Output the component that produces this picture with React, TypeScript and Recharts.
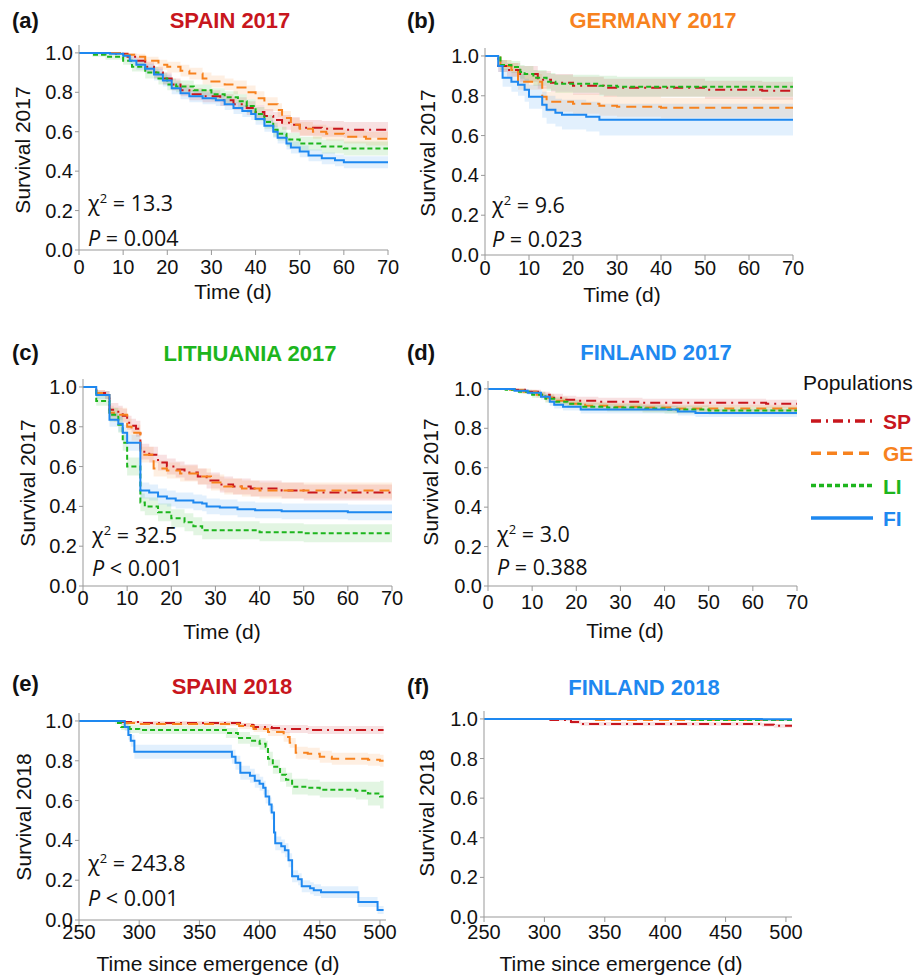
import React from 'react';
import { ComposedChart, Line, Area, XAxis, YAxis } from 'recharts';

// [time, survival, lower CI, upper CI]
type Row = [number, number, number, number];

const POPS = ['SP', 'GE', 'LI', 'FI'];
const COLORS: Record<string, string> = { SP: '#C8161D', GE: '#F7821E', LI: '#1DB51D', FI: '#1E88F0' };
const DASHES: Record<string, string | undefined> = { SP: '10 5 2 5', GE: '10 6', LI: '5 3', FI: undefined };

const TICKS_2017 = [0, 10, 20, 30, 40, 50, 60, 70];
const TICKS_2018 = [250, 300, 350, 400, 450, 500];
const Y_TICKS = [0, 0.2, 0.4, 0.6, 0.8, 1.0];

// (a) Spain 2017
const A_SP: Row[] = [[0,1,1,1],[8,0.995,0.99,1],[11,0.98,0.965,0.995],[13,0.96,0.94,0.98],[15,0.93,0.905,0.955],[17,0.9,0.87,0.93],[19,0.87,0.84,0.9],[21,0.84,0.81,0.87],[23,0.81,0.78,0.84],[25,0.79,0.76,0.82],[28,0.78,0.75,0.81],[32,0.76,0.73,0.79],[35,0.74,0.71,0.775],[38,0.72,0.685,0.755],[40,0.7,0.665,0.735],[42,0.68,0.645,0.715],[44,0.66,0.625,0.7],[46,0.645,0.61,0.685],[48,0.635,0.595,0.675],[50,0.62,0.58,0.66],[55,0.615,0.575,0.655],[60,0.61,0.57,0.65],[70,0.61,0.57,0.65]];
const A_GE: Row[] = [[0,1,1,1],[10,0.99,0.98,1],[13,0.98,0.965,0.995],[15,0.96,0.94,0.98],[18,0.94,0.915,0.965],[20,0.93,0.9,0.955],[23,0.91,0.88,0.94],[25,0.895,0.865,0.925],[28,0.87,0.84,0.9],[30,0.855,0.825,0.885],[33,0.84,0.81,0.87],[35,0.825,0.79,0.86],[38,0.8,0.765,0.835],[40,0.77,0.735,0.805],[42,0.74,0.705,0.775],[45,0.71,0.675,0.745],[46,0.67,0.635,0.705],[48,0.635,0.6,0.67],[50,0.615,0.58,0.65],[53,0.6,0.565,0.635],[56,0.59,0.555,0.625],[60,0.575,0.54,0.61],[65,0.565,0.53,0.6],[70,0.565,0.53,0.6]];
const A_LI: Row[] = [[0,1,1,1],[3,0.99,0.98,1],[6,0.98,0.965,0.995],[10,0.96,0.94,0.98],[12,0.93,0.905,0.955],[15,0.9,0.87,0.93],[18,0.87,0.84,0.9],[20,0.84,0.81,0.87],[22,0.83,0.8,0.86],[26,0.81,0.78,0.84],[30,0.79,0.76,0.82],[33,0.775,0.745,0.805],[36,0.755,0.725,0.79],[38,0.73,0.695,0.765],[40,0.69,0.655,0.725],[42,0.65,0.615,0.685],[44,0.61,0.575,0.645],[45,0.59,0.555,0.625],[47,0.56,0.525,0.595],[50,0.54,0.505,0.575],[55,0.525,0.49,0.56],[60,0.515,0.48,0.55],[70,0.51,0.475,0.545]];
const A_FI: Row[] = [[0,1,1,1],[7,0.995,0.99,1],[10,0.985,0.975,0.995],[11.5,0.96,0.94,0.98],[13,0.94,0.915,0.965],[15,0.92,0.895,0.945],[17,0.89,0.86,0.92],[19,0.86,0.83,0.89],[21,0.82,0.79,0.85],[23,0.795,0.765,0.825],[25,0.78,0.75,0.81],[28,0.77,0.74,0.8],[31,0.76,0.73,0.79],[33,0.74,0.71,0.77],[35,0.72,0.69,0.75],[37,0.705,0.675,0.735],[39,0.69,0.66,0.72],[40,0.665,0.635,0.695],[42,0.63,0.6,0.66],[44,0.6,0.57,0.63],[45,0.57,0.54,0.6],[47,0.54,0.51,0.57],[48,0.52,0.49,0.55],[50,0.5,0.47,0.53],[52,0.48,0.45,0.51],[55,0.465,0.435,0.495],[58,0.455,0.425,0.485],[60,0.445,0.415,0.475],[70,0.44,0.405,0.475]];

// (b) Germany 2017
const B_SP: Row[] = [[0,1,1,1],[3,0.95,0.92,0.98],[5,0.93,0.895,0.965],[8,0.91,0.87,0.95],[12,0.88,0.835,0.925],[15,0.865,0.82,0.91],[20,0.85,0.805,0.895],[27,0.84,0.795,0.885],[50,0.83,0.785,0.875],[63,0.825,0.78,0.87],[70,0.825,0.78,0.87]];
const B_GE: Row[] = [[0,1,1,1],[3.5,0.95,0.92,0.98],[6,0.93,0.895,0.965],[7.5,0.87,0.83,0.91],[13,0.795,0.745,0.845],[14,0.77,0.72,0.82],[20,0.76,0.71,0.81],[26,0.75,0.7,0.8],[30,0.745,0.695,0.795],[40,0.74,0.69,0.79],[70,0.74,0.69,0.79]];
const B_LI: Row[] = [[0,1,1,1],[3.5,0.955,0.93,0.98],[6,0.945,0.915,0.975],[8,0.92,0.885,0.955],[9,0.91,0.87,0.95],[11,0.89,0.85,0.93],[14,0.87,0.825,0.915],[16,0.86,0.815,0.905],[26,0.85,0.8,0.9],[30,0.845,0.795,0.895],[70,0.845,0.795,0.895]];
const B_FI: Row[] = [[0,1,1,1],[3,0.95,0.92,0.98],[4,0.89,0.845,0.935],[6,0.87,0.82,0.92],[7.5,0.855,0.8,0.91],[9,0.83,0.77,0.885],[10,0.795,0.735,0.855],[13,0.755,0.69,0.82],[14,0.73,0.66,0.8],[16,0.715,0.645,0.785],[17.5,0.705,0.63,0.78],[23,0.695,0.62,0.77],[26,0.68,0.6,0.76],[70,0.68,0.6,0.76]];

// (c) Lithuania 2017
const C_SP: Row[] = [[0,1,1,1],[3,0.97,0.955,0.985],[5,0.96,0.94,0.98],[6,0.885,0.85,0.92],[8,0.87,0.835,0.905],[9,0.855,0.82,0.89],[10,0.82,0.785,0.855],[11,0.805,0.77,0.84],[12,0.79,0.75,0.83],[13,0.675,0.635,0.715],[15,0.66,0.62,0.7],[17,0.62,0.58,0.66],[19,0.6,0.56,0.64],[21,0.585,0.545,0.625],[23,0.57,0.53,0.61],[26,0.55,0.51,0.59],[28,0.53,0.49,0.57],[31,0.51,0.47,0.55],[34,0.5,0.46,0.54],[38,0.49,0.45,0.53],[45,0.48,0.44,0.52],[50,0.47,0.43,0.51],[70,0.465,0.425,0.505]];
const C_GE: Row[] = [[0,1,1,1],[3,0.97,0.955,0.985],[5,0.96,0.94,0.98],[6,0.87,0.835,0.905],[7,0.86,0.825,0.895],[10,0.8,0.76,0.84],[11,0.77,0.73,0.81],[13,0.66,0.62,0.7],[16,0.59,0.55,0.63],[19,0.58,0.54,0.62],[22,0.565,0.525,0.605],[26,0.55,0.51,0.59],[29,0.52,0.48,0.56],[32,0.5,0.46,0.54],[36,0.49,0.45,0.53],[40,0.48,0.44,0.52],[70,0.48,0.44,0.52]];
const C_LI: Row[] = [[0,1,1,1],[3,0.93,0.905,0.955],[6,0.86,0.825,0.895],[8,0.81,0.77,0.85],[9,0.72,0.68,0.76],[10,0.6,0.555,0.645],[13,0.42,0.375,0.465],[14,0.4,0.355,0.445],[17,0.37,0.325,0.415],[20,0.34,0.295,0.385],[23,0.32,0.275,0.365],[25,0.3,0.255,0.345],[27,0.28,0.235,0.325],[40,0.27,0.225,0.315],[50,0.265,0.22,0.31],[70,0.265,0.22,0.31]];
const C_FI: Row[] = [[0,1,1,1],[3,0.96,0.94,0.98],[6,0.835,0.8,0.87],[8,0.815,0.775,0.855],[9,0.77,0.73,0.81],[10,0.72,0.68,0.76],[13,0.48,0.44,0.52],[15,0.47,0.43,0.51],[17,0.45,0.41,0.49],[19,0.44,0.4,0.48],[21,0.43,0.39,0.47],[25,0.42,0.38,0.46],[27,0.415,0.375,0.455],[28,0.4,0.36,0.44],[31,0.395,0.355,0.435],[35,0.385,0.345,0.425],[39,0.38,0.34,0.42],[45,0.375,0.335,0.415],[60,0.37,0.33,0.41],[70,0.37,0.33,0.41]];

// (d) Finland 2017
const D_SP: Row[] = [[0,1,1,1],[6,0.995,0.99,1],[9,0.985,0.975,0.995],[12,0.97,0.955,0.985],[14,0.955,0.935,0.975],[17,0.945,0.925,0.965],[20,0.94,0.92,0.96],[25,0.935,0.915,0.955],[35,0.93,0.91,0.95],[63,0.925,0.905,0.945],[70,0.925,0.905,0.945]];
const D_GE: Row[] = [[0,1,1,1],[5,0.995,0.99,1],[8,0.985,0.975,0.995],[11,0.97,0.955,0.985],[13,0.955,0.935,0.975],[15,0.94,0.92,0.96],[18,0.925,0.905,0.945],[22,0.915,0.895,0.935],[27,0.91,0.89,0.93],[35,0.905,0.885,0.925],[42,0.9,0.88,0.92],[70,0.9,0.88,0.92]];
const D_LI: Row[] = [[0,1,1,1],[4,0.995,0.99,1],[7,0.985,0.975,0.995],[10,0.97,0.955,0.985],[13,0.95,0.93,0.97],[15,0.935,0.915,0.955],[18,0.925,0.905,0.945],[21,0.91,0.89,0.93],[27,0.905,0.885,0.925],[35,0.9,0.88,0.92],[40,0.895,0.875,0.915],[50,0.89,0.87,0.91],[70,0.89,0.87,0.91]];
const D_FI: Row[] = [[0,1,1,1],[6,0.99,0.985,0.995],[9,0.98,0.97,0.99],[12,0.96,0.945,0.975],[14,0.935,0.915,0.955],[15,0.92,0.9,0.94],[17,0.91,0.89,0.93],[21,0.895,0.875,0.915],[30,0.895,0.875,0.915],[43,0.885,0.865,0.905],[47,0.878,0.858,0.898],[70,0.878,0.858,0.898]];

// (e) Spain 2018
const E_SP: Row[] = [[250,1,1,1],[285,0.995,0.99,1],[300,0.99,0.98,1],[385,0.98,0.97,0.99],[395,0.97,0.955,0.985],[410,0.965,0.95,0.98],[420,0.96,0.94,0.98],[440,0.955,0.935,0.975],[503,0.955,0.935,0.975]];
const E_GE: Row[] = [[250,1,1,1],[285,0.99,0.98,1],[300,0.985,0.975,0.995],[383,0.975,0.96,0.99],[395,0.96,0.945,0.975],[407,0.945,0.925,0.965],[420,0.92,0.895,0.945],[425,0.89,0.865,0.915],[430,0.84,0.81,0.87],[440,0.835,0.805,0.865],[450,0.82,0.79,0.85],[460,0.81,0.78,0.84],[490,0.805,0.775,0.835],[500,0.8,0.77,0.83],[503,0.8,0.77,0.83]];
const E_LI: Row[] = [[250,1,1,1],[280,0.99,0.985,0.995],[285,0.97,0.955,0.985],[292,0.96,0.94,0.98],[300,0.955,0.935,0.975],[372,0.94,0.915,0.965],[382,0.915,0.885,0.945],[392,0.9,0.87,0.93],[400,0.885,0.855,0.915],[405,0.87,0.84,0.9],[407,0.81,0.775,0.845],[411,0.77,0.735,0.805],[417,0.73,0.695,0.765],[422,0.705,0.67,0.74],[427,0.67,0.63,0.71],[440,0.665,0.625,0.705],[450,0.655,0.615,0.695],[480,0.65,0.605,0.695],[490,0.635,0.575,0.695],[500,0.62,0.56,0.7],[503,0.62,0.56,0.7]];
const E_FI: Row[] = [[250,1,1,1],[288,0.97,0.95,0.99],[291,0.93,0.905,0.955],[293,0.9,0.87,0.93],[296,0.845,0.81,0.88],[377,0.82,0.785,0.855],[380,0.79,0.755,0.825],[384,0.74,0.705,0.775],[392,0.725,0.69,0.76],[396,0.7,0.665,0.735],[400,0.685,0.65,0.72],[403,0.665,0.63,0.7],[405,0.62,0.585,0.655],[408,0.58,0.545,0.615],[410,0.54,0.505,0.575],[412,0.44,0.405,0.475],[413,0.385,0.35,0.42],[418,0.37,0.335,0.405],[421,0.35,0.315,0.385],[424,0.3,0.265,0.335],[427,0.22,0.19,0.25],[432,0.205,0.175,0.235],[435,0.17,0.14,0.2],[442,0.16,0.13,0.19],[445,0.15,0.12,0.18],[451,0.14,0.11,0.17],[482,0.09,0.065,0.115],[498,0.05,0.03,0.07],[503,0.05,0.03,0.07]];

// (f) Finland 2018
const F_SP: Row[] = [[250,1,1,1],[305,0.995,0.99,1],[322,0.985,0.975,0.995],[330,0.975,0.965,0.985],[480,0.97,0.96,0.98],[490,0.965,0.955,0.975],[505,0.965,0.955,0.975]];
const F_GE: Row[] = [[250,1,1,1],[340,0.995,0.99,1],[505,0.995,0.99,1]];
const F_LI: Row[] = [[250,1,1,1],[420,0.995,0.99,1],[505,0.995,0.99,1]];
const F_FI: Row[] = [[250,1,1,1],[480,0.998,0.995,1],[505,0.998,0.995,1]];

const FONT = '"Liberation Sans", Arial, sans-serif';
const STAT_FONT = '"Open Sans", "Noto Sans", sans-serif';

const toPoints = (rows: Row[]) => rows.map(([t, s, lo, hi]) => ({ t, s, band: [lo, hi] }));

interface Box { x0: number; x1: number; y0: number; y1: number }

const Panel = ({ rows, box, xDomain, xTicks, xGap }: { rows: Row[][]; box: Box; xDomain: [number, number]; xTicks: number[]; xGap: number }) => {
  const padL = 60, padT = 10, padR = 20, padB = 40;
  const w = box.x1 - box.x0 + padL + padR;
  const h = box.y1 - box.y0 + padT + padB;
  const axisStyle = { fill: '#111', fontSize: 20, fontFamily: FONT };
  return (
    <div style={{ position: 'absolute', left: box.x0 - padL, top: box.y0 - padT }}>
      <ComposedChart width={w} height={h} margin={{ top: padT, right: padR, bottom: 0, left: 0 }}>
        <XAxis type="number" dataKey="t" domain={xDomain} ticks={xTicks} height={padB} allowDataOverflow
          stroke="#999" tick={axisStyle} tickSize={5} tickMargin={xGap} interval={0} />
        <YAxis type="number" domain={[0, 1.04]} ticks={Y_TICKS} width={padL} allowDataOverflow
          stroke="#999" tick={axisStyle} tickSize={4} tickMargin={2} interval={0}
          tickFormatter={(v: number) => v.toFixed(1)} />
        {POPS.map((p, i) => (
          <Area key={'band' + p} data={toPoints(rows[i])} dataKey="band" type="stepAfter"
            fill={COLORS[p]} fillOpacity={0.13} stroke="none" isAnimationActive={false} />
        ))}
        {POPS.map((p, i) => (
          <Line key={'line' + p} data={toPoints(rows[i])} dataKey="s" type="stepAfter"
            stroke={COLORS[p]} strokeWidth={2} strokeDasharray={DASHES[p]} dot={false}
            activeDot={false} isAnimationActive={false} />
        ))}
      </ComposedChart>
    </div>
  );
};

const Txt = ({ x, y, children, center, style }: { x: number; y: number; children: React.ReactNode; center?: boolean; style?: React.CSSProperties }) => (
  <div style={{
    position: 'absolute', left: x, top: y, whiteSpace: 'nowrap', lineHeight: 1,
    transform: center ? 'translate(-50%, -50%)' : 'translateY(-50%)', fontFamily: FONT, fontSize: 21, color: '#111', ...style
  }}>{children}</div>
);

const YTitle = ({ x, y, text }: { x: number; y: number; text: string }) => (
  <div style={{
    position: 'absolute', left: x, top: y, whiteSpace: 'nowrap', lineHeight: 1,
    transform: 'translate(-50%, -50%) rotate(-90deg)', fontFamily: FONT, fontSize: 21, color: '#111'
  }}>{text}</div>
);

const Stats = ({ x, y1, y2, chi, p }: { x: number; y1: number; y2: number; chi: string; p: string }) => (
  <>
    <Txt x={x} y={y1} style={{ fontFamily: STAT_FONT, fontSize: 21.5 }}>χ<sup style={{ fontSize: 13 }}>2</sup> = {chi}</Txt>
    <Txt x={x} y={y2} style={{ fontFamily: STAT_FONT, fontSize: 21.5 }}><i>P</i> {p}</Txt>
  </>
);

const titleStyle = (c: string): React.CSSProperties => ({ fontWeight: 'bold', color: c, fontSize: 22 });
const tagStyle: React.CSSProperties = { fontWeight: 'bold', fontSize: 22 };

export default function App() {
  return (
    <div style={{ position: 'absolute', left: 0, top: 0, width: 916, height: 977, background: '#fff', overflow: 'hidden' }}>
      {/* panel tags and titles */}
      <Txt x={12} y={21} style={tagStyle}>(a)</Txt>
      <Txt x={230} y={21} center style={titleStyle(COLORS.SP)}>SPAIN 2017</Txt>
      <Txt x={407} y={21} style={tagStyle}>(b)</Txt>
      <Txt x={653} y={21} center style={titleStyle(COLORS.GE)}>GERMANY 2017</Txt>
      <Txt x={12} y={353} style={tagStyle}>(c)</Txt>
      <Txt x={250} y={354} center style={titleStyle(COLORS.LI)}>LITHUANIA 2017</Txt>
      <Txt x={407} y={353} style={tagStyle}>(d)</Txt>
      <Txt x={656} y={353} center style={titleStyle(COLORS.FI)}>FINLAND 2017</Txt>
      <Txt x={12} y={684} style={tagStyle}>(e)</Txt>
      <Txt x={232} y={687} center style={titleStyle(COLORS.SP)}>SPAIN 2018</Txt>
      <Txt x={407} y={687} style={tagStyle}>(f)</Txt>
      <Txt x={644} y={688} center style={titleStyle(COLORS.FI)}>FINLAND 2018</Txt>

      <Panel rows={[A_SP, A_GE, A_LI, A_FI]} box={{ x0: 79, x1: 388, y0: 45, y1: 250 }} xDomain={[0, 70]} xTicks={TICKS_2017} xGap={5} />
      <Panel rows={[B_SP, B_GE, B_LI, B_FI]} box={{ x0: 485, x1: 793, y0: 48, y1: 255 }} xDomain={[0, 70]} xTicks={TICKS_2017} xGap={1} />
      <Panel rows={[C_SP, C_GE, C_LI, C_FI]} box={{ x0: 83, x1: 392, y0: 379, y1: 586 }} xDomain={[0, 70]} xTicks={TICKS_2017} xGap={0} />
      <Panel rows={[D_SP, D_GE, D_LI, D_FI]} box={{ x0: 488, x1: 797, y0: 381, y1: 586 }} xDomain={[0, 70]} xTicks={TICKS_2017} xGap={4} />
      <Panel rows={[E_SP, E_GE, E_LI, E_FI]} box={{ x0: 79, x1: 386, y0: 713, y1: 920 }} xDomain={[250, 505]} xTicks={TICKS_2018} xGap={0} />
      <Panel rows={[F_SP, F_GE, F_LI, F_FI]} box={{ x0: 484, x1: 792, y0: 711, y1: 917 }} xDomain={[250, 505]} xTicks={TICKS_2018} xGap={3} />

      {/* axis titles */}
      <YTitle x={22} y={150} text="Survival 2017" />
      <YTitle x={427} y={153} text="Survival 2017" />
      <YTitle x={27} y={483} text="Survival 2017" />
      <YTitle x={430} y={482} text="Survival 2017" />
      <YTitle x={23} y={817} text="Survival 2018" />
      <YTitle x={426} y={813} text="Survival 2018" />
      <Txt x={233} y={291} center>Time (d)</Txt>
      <Txt x={622} y={294} center>Time (d)</Txt>
      <Txt x={222} y={631} center>Time (d)</Txt>
      <Txt x={625} y={630} center>Time (d)</Txt>
      <Txt x={218} y={963} center>Time since emergence (d)</Txt>
      <Txt x={621} y={963} center>Time since emergence (d)</Txt>

      {/* test statistics */}
      <Stats x={88} y1={203} y2={238} chi="13.3" p="= 0.004" />
      <Stats x={492} y1={205} y2={239} chi="9.6" p="= 0.023" />
      <Stats x={92} y1={535} y2={568} chi="32.5" p="< 0.001" />
      <Stats x={497} y1={534} y2={567} chi="3.0" p="= 0.388" />
      <Stats x={88} y1={863} y2={898} chi="243.8" p="< 0.001" />

      {/* legend */}
      <Txt x={803} y={382}>Populations</Txt>
      <svg style={{ position: 'absolute', left: 805, top: 405 }} width={75} height={125}>
        {POPS.map((p, i) => (
          <line key={p} x1={6} x2={68} y1={16 + i * 32.3} y2={16 + i * 32.3} stroke={COLORS[p]} strokeWidth={3.5}
            strokeDasharray={DASHES[p]} />
        ))}
      </svg>
      {POPS.map((p, i) => (
        <Txt key={p} x={883} y={421 + i * 32.3} style={{ fontWeight: 'bold', color: COLORS[p] }}>{p}</Txt>
      ))}
    </div>
  );
}
